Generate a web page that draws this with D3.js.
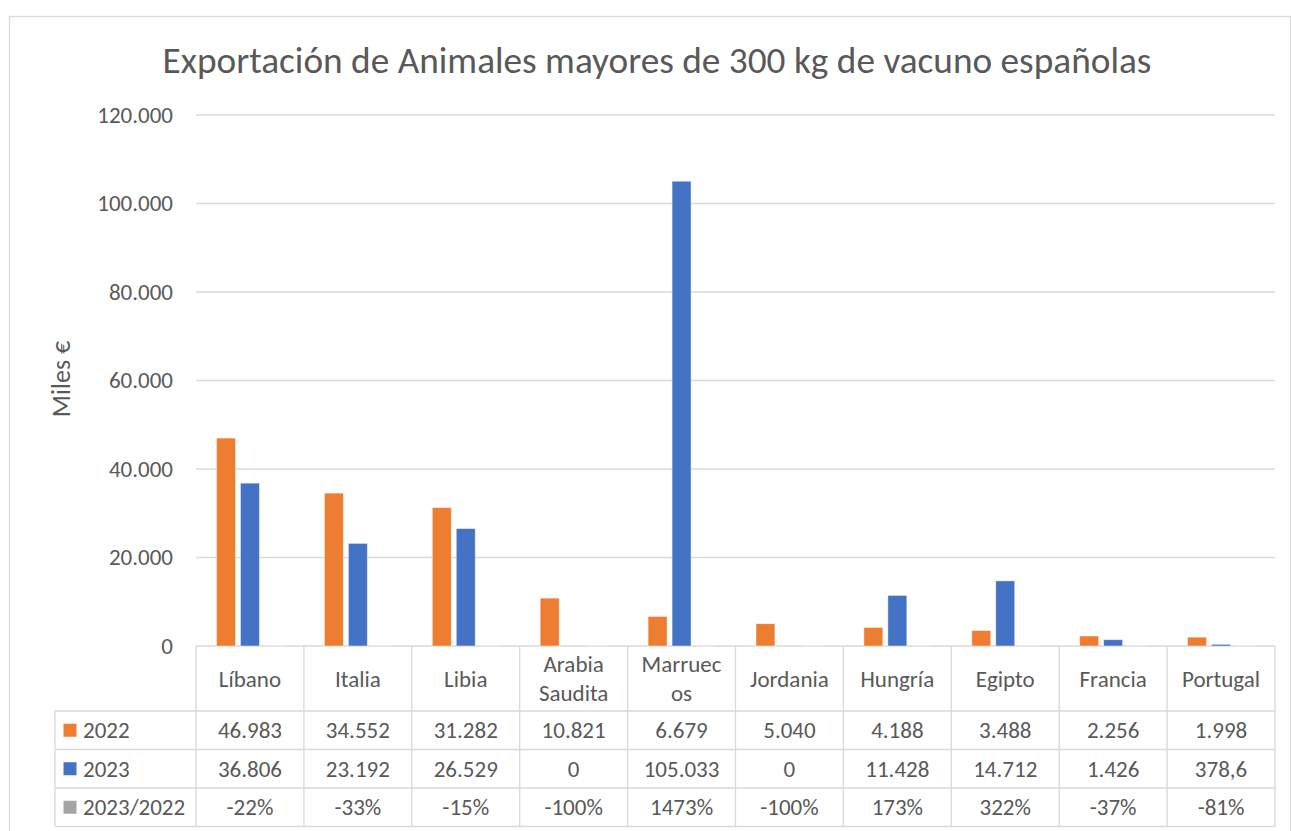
<!DOCTYPE html>
<html>
<head>
<meta charset="utf-8">
<script src="https://cdn.jsdelivr.net/npm/d3@7"></script>
<style>
  html, body { margin: 0; padding: 0; background: #fff; }
  svg { display: block; }
  text { font-family: Carlito, Lato, "Open Sans", sans-serif; fill: #595959; }
</style>
</head>
<body>
<svg id="chart" width="1291" height="831"></svg>
<script>
// Export values, thousands of euros
const categories = ["Líbano", "Italia", "Libia", "Arabia Saudita", "Marruecos", "Jordania", "Hungría", "Egipto", "Francia", "Portugal"];
const values2022 = [46983, 34552, 31282, 10821, 6679, 5040, 4188, 3488, 2256, 1998];
const values2023 = [36806, 23192, 26529, 0, 105033, 0, 11428, 14712, 1426, 378.6];
const change = [-0.22, -0.33, -0.15, -1.00, 14.73, -1.00, 1.73, 3.22, -0.37, -0.81];
const seriesNames = ["2022", "2023", "2023/2022"];
const seriesColors = ["#ed7d31", "#4472c4", "#a5a5a5"];
const yTicks = [0, 20000, 40000, 60000, 80000, 100000, 120000];
const titleText = "Exportación de Animales mayores de 300 kg de vacuno españolas";
const yTitle = "Miles €";

const series = [values2022, values2023, change];

const es = d3.formatLocale({ decimal: ",", thousands: ".", grouping: [3], currency: ["", "€"], minus: "-" });
const fmtInt = es.format(",.0f");
const fmtDec = es.format(",.1f");
const fmtPct = es.format(".0%");
const fmtValue = v => Number.isInteger(v) ? fmtInt(v) : fmtDec(v);
const formatters = [fmtValue, fmtValue, fmtPct];

const svg = d3.select("#chart");
const gridColor = "#d9d9d9";
const fs = "23px";

// layout
const plot = { left: 196, right: 1275, top: 115, bottom: 646 };
const tableLeft = 55;
const headerBottom = 711;
const rowH = 38.5;

// outer frame
svg.append("rect")
  .attr("x", 9.5).attr("y", 16.5)
  .attr("width", 1281).attr("height", 840)
  .attr("fill", "#fff").attr("stroke", gridColor).attr("stroke-width", 1.3);

const x = d3.scaleBand().domain(categories).range([plot.left, plot.right]).padding(0);
const xs = d3.scaleBand().domain(seriesNames)
  .range([20.5, x.bandwidth() - 20.5]).paddingInner(0.21);
const y = d3.scaleLinear().domain([0, 120000]).range([plot.bottom, plot.top]);

// gridlines
svg.append("g").selectAll("line").data(yTicks).join("line")
  .attr("x1", plot.left).attr("x2", plot.right)
  .attr("y1", d => y(d)).attr("y2", d => y(d))
  .attr("stroke", gridColor).attr("stroke-width", 1.3);

// y axis labels
const yAxis = d3.axisLeft(y).tickValues(yTicks).tickFormat(fmtInt).tickSize(0).tickPadding(23);
const ya = svg.append("g").attr("transform", `translate(${plot.left},0)`).call(yAxis);
ya.select(".domain").remove();
ya.selectAll("text").style("font-size", fs).attr("fill", "#595959")
  .style("font-family", "Carlito, Lato, sans-serif");

// y title
svg.append("text")
  .attr("transform", "translate(70,379) rotate(-90)")
  .attr("text-anchor", "middle")
  .style("font-size", "26px")
  .text(yTitle);

// bars
const groups = svg.append("g").selectAll("g").data(categories).join("g")
  .attr("transform", d => `translate(${x(d)},0)`);
groups.selectAll("rect")
  .data((c, i) => series.map((s, k) => ({ k, v: s[i] })))
  .join("rect")
  .attr("x", d => xs(seriesNames[d.k]))
  .attr("width", xs.bandwidth())
  .attr("y", d => y(Math.max(0, d.v)))
  .attr("height", d => Math.abs(y(d.v) - y(0)))
  .attr("fill", d => seriesColors[d.k])
  .attr("stroke", "#fff").attr("stroke-opacity", 0.55).attr("stroke-width", 0.8);

// data table
const tbl = svg.append("g");
const lineAttrs = sel => sel.attr("stroke", gridColor).attr("stroke-width", 1.3).attr("fill", "none");
const rowTops = [headerBottom, headerBottom + rowH, headerBottom + 2 * rowH, headerBottom + 3 * rowH];
const tableBottom = rowTops[3];

// horizontal rules
tbl.selectAll("line.h").data(rowTops).join("line").attr("class", "h")
  .attr("x1", tableLeft).attr("x2", plot.right)
  .attr("y1", d => d).attr("y2", d => d).call(lineAttrs);
// vertical rules of the category columns
const colEdges = categories.map(c => x(c)).concat([plot.right]);
tbl.selectAll("line.v").data(colEdges).join("line").attr("class", "v")
  .attr("x1", d => d).attr("x2", d => d)
  .attr("y1", plot.bottom).attr("y2", tableBottom).call(lineAttrs);
tbl.append("line").attr("x1", tableLeft).attr("x2", tableLeft)
  .attr("y1", headerBottom).attr("y2", tableBottom).call(lineAttrs);

// header labels with wrapping inside the cell
const maxW = x.bandwidth() - 24;
const measurer = svg.append("text").style("font-size", fs).attr("opacity", 0);
const textW = s => { measurer.text(s); return measurer.node().getComputedTextLength(); };
function wrap(label) {
  const out = [];
  let cur = "";
  label.split(" ").forEach(w => {
    const trial = cur ? cur + " " + w : w;
    if (textW(trial) <= maxW) { cur = trial; return; }
    if (cur) out.push(cur);
    cur = "";
    let piece = "";
    for (const ch of w) {
      if (textW(piece + ch) <= maxW) piece += ch;
      else { out.push(piece); piece = ch; }
    }
    cur = piece;
  });
  if (cur) out.push(cur);
  return out;
}
const headerMid = (plot.bottom + headerBottom) / 2 + 8;
categories.forEach(c => {
  const lines = wrap(c);
  const lh = 29;
  const t = tbl.append("text")
    .attr("text-anchor", "middle")
    .style("font-size", fs);
  lines.forEach((ln, i) => {
    t.append("tspan")
      .attr("x", x(c) + x.bandwidth() / 2)
      .attr("y", headerMid + (i - (lines.length - 1) / 2) * lh)
      .text(ln);
  });
});
measurer.remove();

// rows: legend key + values
series.forEach((s, k) => {
  const cy = rowTops[k] + rowH / 2;
  tbl.append("rect").attr("x", 63.5).attr("y", cy - 6.5).attr("width", 13).attr("height", 13)
    .attr("fill", seriesColors[k]);
  tbl.append("text").attr("x", 83).attr("y", cy).attr("dy", "0.35em")
    .style("font-size", fs).text(seriesNames[k]);
  tbl.selectAll(null).data(s).join("text")
    .attr("x", (d, i) => x(categories[i]) + x.bandwidth() / 2)
    .attr("y", cy).attr("dy", "0.35em")
    .attr("text-anchor", "middle")
    .style("font-size", fs)
    .text(d => formatters[k](d));
});

// title, sized to span its width
const title = svg.append("text")
  .attr("x", 657).attr("y", 73)
  .attr("text-anchor", "middle")
  .style("font-size", "34px")
  .text(titleText);
const tw = title.node().getComputedTextLength();
title.style("font-size", (34 * 989 / tw).toFixed(2) + "px");
</script>
</body>
</html>
